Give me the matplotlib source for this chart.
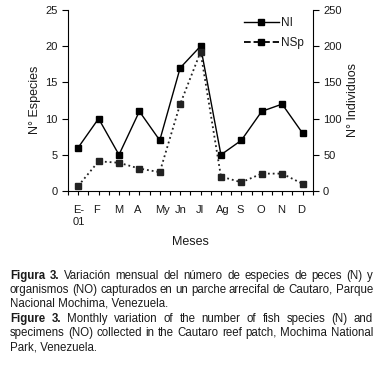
import numpy as np
import matplotlib
matplotlib.use('Agg')
import matplotlib.pyplot as plt

plt.rcParams['font.family'] = ['Liberation Sans', 'DejaVu Sans']

# DATA ##########################################
meses = ['E-\n01', 'F', 'M', 'A', 'My', 'Jn', 'Jl', 'Ag', 'S', 'O', 'N', 'D']
especies = [6, 10, 5, 11, 7, 17, 20, 5, 7, 11, 12, 8]            # left axis, solid
individuos = [7, 41, 39, 31, 26, 120, 192, 20, 12, 24, 24, 10]   # right axis, dotted

caption_es = ['Variación mensual del número de especies de peces (N) y',
              'organismos (NO) capturados en un parche arrecifal de Cautaro, Parque',
              'Nacional Mochima, Venezuela.']
caption_en = ['Monthly variation of the number of fish species (N) and',
              'specimens (NO) collected in the Cautaro reef patch, Mochima National',
              'Park, Venezuela.']

cap_size = 8.3

W, H = 383, 366
fig = plt.figure(figsize=(W/100, H/100), dpi=100)
txt = '#1a1a1a'

ax = fig.add_axes([68/W, 1-191/H, 244.7/W, 181/H])
ax2 = ax.twinx()

x = np.arange(len(meses)) + 0.5
l1, = ax.plot(x, especies, '-', color='black', lw=1.0, marker='s', ms=4)
l2, = ax2.plot(x, individuos, ':', color='#222222', lw=1.3, marker='s', ms=4)
leg2, = ax.plot([], [], ls='--', color='black', lw=1.3, marker='s', ms=4)

ax.set_xlim(0, 12)
ax.set_ylim(0, 25)
ax2.set_ylim(0, 250)
ax.set_yticks(np.arange(0, 26, 5))
ax2.set_yticks(np.arange(0, 251, 50))
ax.set_xticks(np.arange(0, 12.01, 0.5))
ax.set_xticklabels([''] * 25)
for xi, m in zip(x, meses):
    ax.text(xi - 0.25, -0.075, m, transform=ax.get_xaxis_transform(), ha='left', va='top',
            fontsize=8, color=txt, linespacing=1.35)

for a in (ax, ax2):
    a.spines['top'].set_visible(False)
    a.tick_params(direction='out', length=4, width=0.8, labelsize=8, labelcolor=txt)
ax.spines['right'].set_visible(False)
ax2.spines['left'].set_visible(False)
ax2.spines['bottom'].set_visible(False)
ax.tick_params(axis='x', length=3)

fig.text(35/W, 1-100/H, 'N° Especies', rotation=90, ha='center', va='center', fontsize=9, color=txt)
fig.text(353/W, 1-100/H, 'N° Individuos', rotation=90, ha='center', va='center', fontsize=9, color=txt)
fig.text(190/W, 1-242/H, 'Meses', ha='center', va='center', fontsize=9, color=txt)

ax.legend([l1, leg2], ['NI', 'NSp'], loc='upper left', bbox_to_anchor=(165/244.7, 1.02),
          frameon=False, fontsize=8.5, handlelength=3, handletextpad=0.2, labelspacing=0.7,
          labelcolor=txt)


# CAPTION (justified) ###########################
def put_line(y, words, bold_n, x0=10, x1=373):
    r = fig.canvas.get_renderer()
    objs = []
    for i, w in enumerate(words):
        t = fig.text(0, 1-y/H, w, fontsize=cap_size, va='center', ha='left', color=txt,
                     fontweight='bold' if i < bold_n else 'normal')
        objs.append(t)
    widths = [t.get_window_extent(r).width for t in objs]
    space = (x1 - x0 - sum(widths)) / max(len(words) - 1, 1)
    xp = x0
    for t, wd in zip(objs, widths):
        t.set_x(xp / W)
        xp += wd + space


def put_caption(y0, label, lines):
    for k, line in enumerate(lines):
        y = y0 + k*14
        if k == len(lines) - 1:
            fig.text(10/W, 1-y/H, line, fontsize=cap_size, va='center', ha='left', color=txt)
            continue
        words = line.split()
        nb = 0
        if k == 0:
            words = label.split() + words
            nb = 2
        put_line(y, words, nb)


put_caption(276, 'Figura 3.', caption_es)
put_caption(319, 'Figure 3.', caption_en)

fig.savefig('out.png', dpi=100)
